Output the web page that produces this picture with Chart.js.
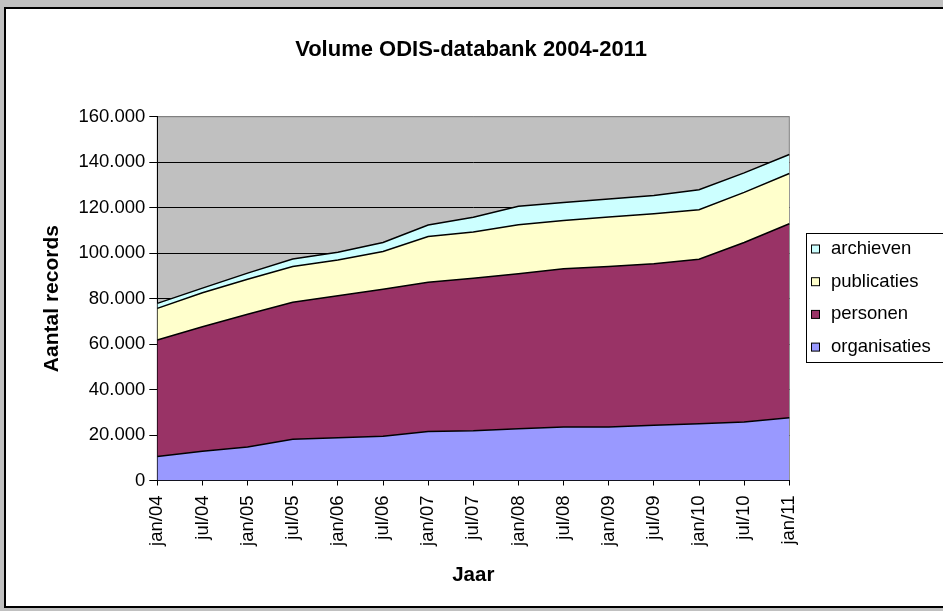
<!DOCTYPE html>
<html>
<head>
<meta charset="utf-8">
<title>Volume ODIS-databank 2004-2011</title>
<script src="https://cdn.jsdelivr.net/npm/chart.js@4.4.1/dist/chart.umd.min.js"></script>
<style>
  html, body { margin: 0; padding: 0; background: #c0c0c0; }
  canvas { display: block; }
</style>
</head>
<body>
<canvas id="chart" width="943" height="611"></canvas>
<script>
// maanden (x-as)
const labels = ['jan/04', 'jul/04', 'jan/05', 'jul/05', 'jan/06', 'jul/06', 'jan/07', 'jul/07',
    'jan/08', 'jul/08', 'jan/09', 'jul/09', 'jan/10', 'jul/10', 'jan/11'];

// aantal records per type (gestapeld)
const organisaties = [10600, 12900, 14700, 18100, 18800, 19500, 21600, 21900, 22800, 23500, 23500, 24300, 25000, 25700, 27600];
const personen = [51200, 54700, 58400, 60300, 62500, 64600, 65600, 67100, 68100, 69600, 70600, 71000, 72300, 79000, 85300];
const publicaties = [13900, 15000, 15400, 15700, 15700, 16600, 20100, 20300, 21600, 21300, 21800, 22000, 21800, 22000, 22100];
const archieven = [2200, 2000, 2700, 3300, 3400, 4000, 5100, 6500, 8100, 7900, 7900, 8000, 8800, 8600, 8400];

// y-as
const yMin = 0;
const yMax = 160000;
const yStep = 20000;

const FONT = "'Liberation Sans', Arial, sans-serif";
Chart.defaults.font.family = FONT;
Chart.defaults.color = '#000';

function formatNumber(v) {
    return String(v).replace(/\B(?=(\d{3})+(?!\d))/g, '.');
}

// achtergrond, kader, titel en legende zoals in Excel
const excelLook = {
    id: 'excelLook',
    beforeDraw(chart) {
        const ctx = chart.ctx;
        const a = chart.chartArea;
        ctx.save();
        ctx.fillStyle = '#c0c0c0';
        ctx.fillRect(0, 0, chart.width, chart.height);
        ctx.fillStyle = '#fff';
        ctx.fillRect(5, 8, 950, 599);
        ctx.strokeStyle = '#000';
        ctx.lineWidth = 2;
        ctx.strokeRect(5, 8, 950, 599);
        ctx.fillStyle = '#c0c0c0';
        ctx.fillRect(a.left, a.top, a.right - a.left, a.bottom - a.top);
        ctx.strokeStyle = '#808080';
        ctx.lineWidth = 1;
        ctx.strokeRect(a.left, a.top, a.right - a.left, a.bottom - a.top);

        ctx.fillStyle = '#000';
        ctx.font = 'bold 22px ' + FONT;
        ctx.textAlign = 'center';
        ctx.textBaseline = 'middle';
        ctx.fillText('Volume ODIS-databank 2004-2011', 471, 50);
        ctx.restore();
    },
    afterDraw(chart) {
        const ctx = chart.ctx;
        const sets = chart.data.datasets;
        ctx.save();
        ctx.strokeStyle = '#000';
        ctx.lineWidth = 1;
        ctx.strokeRect(806.5, 233.5, 137, 129);
        ctx.font = '18.5px ' + FONT;
        ctx.textAlign = 'left';
        ctx.textBaseline = 'middle';
        for (let i = sets.length - 1, row = 0; i >= 0; i--, row++) {
            const y = 249 + row * 32.7;
            ctx.fillStyle = sets[i].backgroundColor;
            ctx.fillRect(811.5, y - 4, 8, 8);
            ctx.strokeRect(811.5, y - 4, 8, 8);
            ctx.fillStyle = '#000';
            ctx.fillText(sets[i].label, 831, y);
        }
        ctx.restore();
    }
};

function area(label, data, color, fill) {
    return {
        label: label,
        data: data,
        backgroundColor: color,
        borderColor: '#000',
        borderWidth: 1.5,
        pointRadius: 0,
        tension: 0,
        fill: fill
    };
}

new Chart(document.getElementById('chart').getContext('2d'), {
    type: 'line',
    data: {
        labels: labels,
        datasets: [
            area('organisaties', organisaties, '#9999ff', 'origin'),
            area('personen', personen, '#993366', '-1'),
            area('publicaties', publicaties, '#ffffcc', '-1'),
            area('archieven', archieven, '#ccffff', '-1')
        ]
    },
    options: {
        responsive: false,
        animation: false,
        devicePixelRatio: 1,
        layout: {
            padding: { left: 0, right: 153.7, top: 116.7, bottom: 20.5 }
        },
        plugins: {
            legend: { display: false },
            title: { display: false },
            tooltip: { enabled: false }
        },
        scales: {
            x: {
                afterFit: function (s) { s.height = 110; },
                grid: {
                    drawOnChartArea: false,
                    drawTicks: true,
                    tickLength: 5,
                    tickColor: '#000'
                },
                border: { display: true, color: '#000', width: 1 },
                ticks: {
                    autoSkip: false,
                    maxRotation: 90,
                    minRotation: 90,
                    padding: 10,
                    font: { size: 18.5 }
                },
                title: {
                    display: true,
                    text: 'Jaar',
                    font: { size: 20.5, weight: 'bold' },
                    padding: { top: 0, bottom: 3 }
                }
            },
            y: {
                stacked: true,
                min: yMin,
                max: yMax,
                afterFit: function (s) { s.width = 157.3; },
                grid: {
                    color: function (c) { return c.tick && c.tick.value === yMax ? '#808080' : '#000'; },
                    tickColor: '#000',
                    tickLength: 8,
                    lineWidth: 1
                },
                border: { display: true, color: '#000', width: 1 },
                ticks: {
                    stepSize: yStep,
                    padding: 4,
                    font: { size: 18.5 },
                    callback: function (v) { return formatNumber(v); }
                },
                title: {
                    display: true,
                    text: 'Aantal records',
                    font: { size: 21, weight: 'bold' },
                    padding: { top: 40, bottom: 0 }
                }
            }
        }
    },
    plugins: [excelLook]
});
</script>
</body>
</html>
